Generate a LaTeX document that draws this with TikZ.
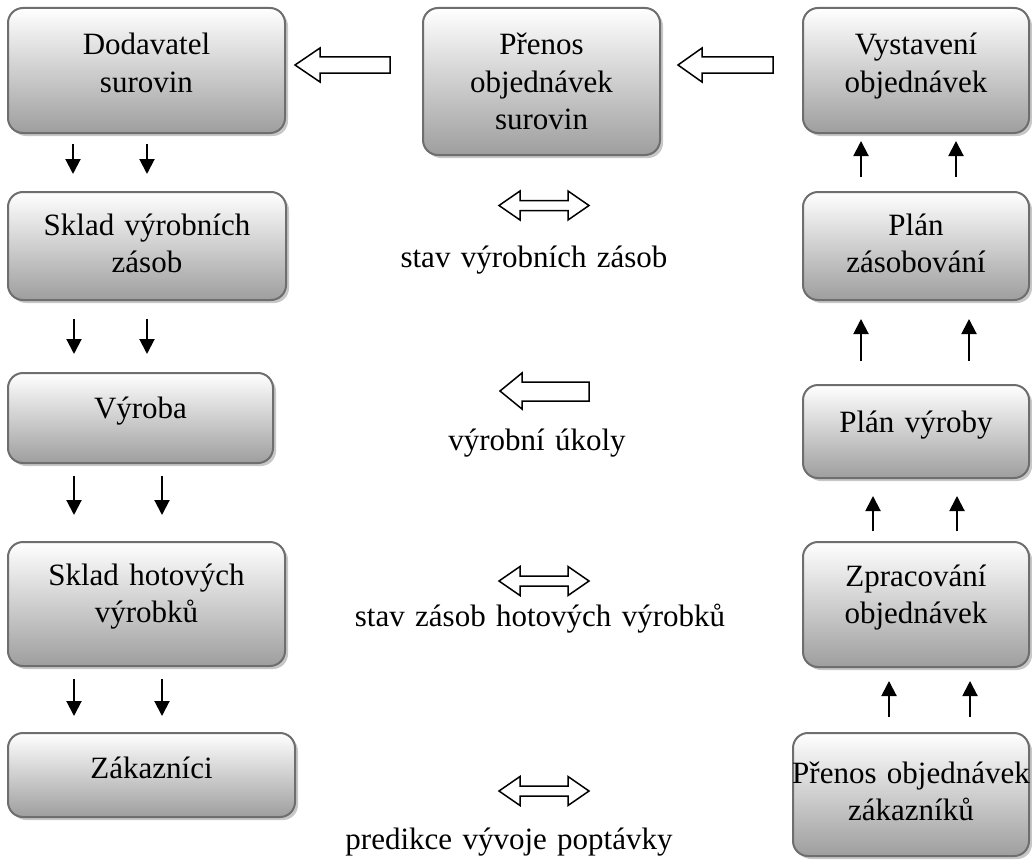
\documentclass[tikz,border=0pt]{standalone}
\usepackage{fontspec}
\setmainfont{Liberation Serif}
\usetikzlibrary{arrows.meta,shadows,calc}
\definecolor{boxborder}{HTML}{6E6E6E}
\newcommand{\lblfont}{\fontsize{31}{37}\selectfont\spaceskip=0.2em plus 0.05em minus 0.02em\relax}
\begin{document}
\begin{tikzpicture}[x=1pt,y=-1pt,
  box/.style={draw=boxborder, line width=2pt, rounded corners=15pt,
    top color=white, bottom color=black!38, inner sep=0pt,
    drop shadow={shadow xshift=3pt, shadow yshift=-3pt, fill=black!22, opacity=1}},
  lbl/.style={anchor=base, align=center, text width=420pt, inner sep=0pt,
    font=\lblfont},
  blk/.style={line width=2pt, -{Triangle[length=15pt,width=15pt]}},
  hollow/.style={draw=black, line width=1.5pt, fill=white, line join=miter}
]
\useasboundingbox (0,0) rectangle (1032,859);

% boxes
\node[box, minimum width=277pt, minimum height=125pt] (dod) at (146.5,70.5) {};
\node[box, minimum width=278pt, minimum height=108pt] (skv) at (147,246) {};
\node[box, minimum width=265pt, minimum height=90pt]  (vyr) at (140.5,418) {};
\node[box, minimum width=277pt, minimum height=124pt] (skh) at (146.5,604) {};
\node[box, minimum width=287pt, minimum height=84pt]  (zak) at (151.5,775) {};
\node[box, minimum width=237pt, minimum height=147pt] (pos) at (541.5,81.5) {};
\node[box, minimum width=226pt, minimum height=125pt] (vys) at (916,70.5) {};
\node[box, minimum width=226pt, minimum height=108pt] (plz) at (916,246) {};
\node[box, minimum width=226pt, minimum height=93pt]  (plv) at (916,431.5) {};
\node[box, minimum width=226pt, minimum height=125pt] (zpr) at (916,604.5) {};
\node[box, minimum width=236pt, minimum height=123pt] (poz) at (911,794.5) {};

% box texts
\node[lbl] (dodt) at (146.5,55) {Dodavatel\\surovin};
\node[lbl] (skvt) at (147,235) {Sklad výrobních\\zásob};
\node[lbl] (vyrt) at (140.5,418) {Výroba};
\node[lbl] (skht) at (146.5,585) {Sklad hotových\\výrobků};
\node[lbl] (zakt) at (151.5,778) {Zákazníci};
\node[lbl] (post) at (541.5,55) {Přenos\\objednávek\\surovin};
\node[lbl] (vyst) at (916,55) {Vystavení\\objednávek};
\node[lbl] (plzt) at (916,235) {Plán\\zásobování};
\node[lbl] (plvt) at (916,432) {Plán výroby};
\node[lbl] (zprt) at (916,586) {Zpracování\\objednávek};
\node[lbl] (pozt) at (911,783) {Přenos objednávek\\zákazníků};

% middle labels
\node[lbl] (m1) at (534,267) {stav výrobních zásob};
\node[lbl] (m2) at (537,450) {výrobní úkoly};
\node[lbl] (m3) at (540,626) {stav zásob hotových výrobků};
\node[lbl] (m4) at (509,849) {predikce vývoje poptávky};

% left column arrows (down)
\draw[blk] ($(dod.south west)+(66,10)$) -- ($(skv.north west)+(66,-17)$);
\draw[blk] ($(dod.south west)+(140,10)$) -- ($(skv.north west)+(140,-17)$);
\draw[blk] ($(skv.south west)+(67,18)$) -- ($(vyr.north west)+(67,-18)$);
\draw[blk] ($(skv.south west)+(140,18)$) -- ($(vyr.north west)+(140,-18)$);
\draw[blk] ($(vyr.south west)+(67,12)$) -- ($(skh.north west)+(67,-26)$);
\draw[blk] ($(vyr.south west)+(155,12)$) -- ($(skh.north west)+(155,-26)$);
\draw[blk] ($(skh.south west)+(67,12)$) -- ($(zak.north west)+(67,-16)$);
\draw[blk] ($(skh.south west)+(155,12)$) -- ($(zak.north west)+(155,-16)$);

% right column arrows (up)
\draw[blk] ($(plz.north west)+(59,-14)$) -- ($(vys.south west)+(59,7)$);
\draw[blk] ($(plz.north west)+(154,-14)$) -- ($(vys.south west)+(154,7)$);
\draw[blk] ($(plv.north west)+(59,-23)$) -- ($(plz.south west)+(59,18)$);
\draw[blk] ($(plv.north west)+(167,-23)$) -- ($(plz.south west)+(167,18)$);
\draw[blk] ($(zpr.north west)+(71,-10)$) -- ($(plv.south west)+(71,17)$);
\draw[blk] ($(zpr.north west)+(155,-10)$) -- ($(plv.south west)+(155,17)$);
\draw[blk] ($(poz.north west)+(97,-15)$) -- ($(zpr.south west)+(87,13)$);
\draw[blk] ($(poz.north west)+(178,-15)$) -- ($(zpr.south west)+(168,13)$);

% hollow single arrows (pointing left)
\draw[hollow] (295,65) -- (320,48) -- (320,57) -- (390,57) -- (390,73) -- (320,73) -- (320,82) -- cycle;
\draw[hollow] (678,65) -- (702,48) -- (702,57) -- (773,57) -- (773,73) -- (702,73) -- (702,82) -- cycle;
\draw[hollow] (500,391) -- (522,373) -- (522,382) -- (589,382) -- (589,401) -- (522,401) -- (522,409) -- cycle;

% hollow double arrows
\foreach \cy in {205.5, 581, 791}{
  \draw[hollow] (499,\cy) -- (520,\cy-14.5) -- (520,\cy-5) -- (568,\cy-5) -- (568,\cy-14.5)
    -- (589,\cy) -- (568,\cy+14.5) -- (568,\cy+5) -- (520,\cy+5) -- (520,\cy+14.5) -- cycle;
}
\end{tikzpicture}
\end{document}
